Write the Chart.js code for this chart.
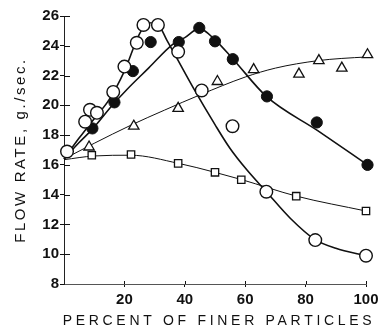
<!DOCTYPE html>
<html>
<head>
<meta charset="utf-8">
<script src="https://cdn.jsdelivr.net/npm/chart.js@4.4.1/dist/chart.umd.min.js"></script>
<style>
html,body{margin:0;padding:0;background:#fff;}
#wrap{width:378px;height:329px;position:relative;}
</style>
</head>
<body>
<div id="wrap"><canvas id="c" width="378" height="329"></canvas></div>
<script>
// ---- data ----
const xTicks = [0, 20, 40, 60, 80, 100];
const yTicks = [8, 10, 12, 14, 16, 18, 20, 22, 24, 26];

const openX = [1, 7, 8.6, 10.9, 16.3, 20, 24.1, 26.3, 31.1, 37.8, 45.6, 55.8, 67, 83.2, 100];
const openY = [16.9, 18.9, 19.7, 19.5, 20.9, 22.6, 24.2, 25.4, 25.4, 23.6, 21.0, 18.6, 14.2, 10.95, 9.9];

const filledX = [1, 9.4, 16.7, 22.8, 28.7, 38, 44.8, 50, 55.9, 67.2, 83.7, 100.5];
const filledY = [16.9, 18.45, 20.2, 22.3, 24.25, 24.25, 25.2, 24.3, 23.1, 20.6, 18.85, 16.0];

const triX = [8.3, 23.1, 37.8, 50.8, 62.8, 77.8, 84.4, 92, 100.5];
const triY = [17.2, 18.6, 19.8, 21.6, 22.4, 22.1, 23.0, 22.5, 23.4];

const sqX = [9.2, 22.2, 37.8, 50, 58.7, 76.9, 100];
const sqY = [16.65, 16.7, 16.1, 15.5, 15.0, 13.9, 12.9];

// fitted curves as drawn in the reference
const openCurveX = [0, 5, 10, 15, 20, 25, 28, 31, 34, 37, 43, 50, 55, 60.6, 67, 75, 83, 90, 100];
const openCurveY = [16.4, 17.8, 19.1, 20.4, 22.3, 24.8, 25.55, 25.45, 24.4, 23.3, 21.1, 18.7, 17.1, 15.65, 14.2, 12.4, 11.0, 10.4, 9.9];

const filledCurveX = [0, 5, 9.4, 16, 21, 28, 36, 40, 44.8, 50, 56, 67, 84, 100.5];
const filledCurveY = [16.4, 17.5, 18.4, 20.0, 21.1, 22.5, 24.1, 24.55, 25.15, 24.4, 23.1, 20.6, 18.3, 16.0];

const triCurveX = [0, 10, 22.2, 33.3, 45, 60, 70, 84, 92, 100.5];
const triCurveY = [16.4, 17.45, 18.67, 19.68, 20.7, 21.9, 22.5, 23.0, 23.15, 23.25];

const sqCurveX = [0, 10, 22, 38, 50, 59, 77, 100];
const sqCurveY = [16.35, 16.6, 16.65, 16.1, 15.5, 15.0, 13.9, 12.9];

const xTitle = 'PERCENT OF FINER PARTICLES';
const yTitle = 'FLOW RATE, g./sec.';

function pts(xs, ys) { return xs.map((x, i) => ({x: x, y: ys[i]})); }

function curve(xs, ys, w) {
  return {data: pts(xs, ys), showLine: true, borderColor: '#111', borderWidth: w,
    pointRadius: 0, pointHoverRadius: 0, cubicInterpolationMode: 'monotone', order: 10, clip: false, fill: false};
}
function marks(xs, ys, style, r, bg, bw) {
  return {data: pts(xs, ys), showLine: false, pointStyle: style, pointRadius: r, pointHoverRadius: r,
    backgroundColor: bg, borderColor: '#111', pointBorderWidth: bw, borderWidth: bw, order: 1, clip: false};
}

const FONT = '"Liberation Sans", Arial, sans-serif';

const innerTicks = {
  id: 'innerTicks',
  afterDraw(chart) {
    const ctx = chart.ctx, xs = chart.scales.x, ys = chart.scales.y, a = chart.chartArea;
    ctx.save();
    ctx.strokeStyle = '#111';
    ctx.lineWidth = 1;
    ctx.beginPath();
    yTicks.forEach(v => {
      if (v === 8) return;
      const py = Math.round(ys.getPixelForValue(v)) + 0.5;
      ctx.moveTo(a.left, py); ctx.lineTo(a.left + 6, py);
    });
    xTicks.forEach(v => {
      if (v === 0) return;
      const px = Math.round(xs.getPixelForValue(v)) + 0.5;
      ctx.moveTo(px, a.bottom); ctx.lineTo(px, a.bottom - 3);
    });
    ctx.stroke();
    // axis titles with letter spacing
    ctx.fillStyle = '#111';
    ctx.textAlign = 'center';
    ctx.textBaseline = 'middle';
    ctx.font = '14px ' + FONT;
    ctx.letterSpacing = '3.7px';
    ctx.fillText(xTitle, 219, 321);
    ctx.translate(21, 150);
    ctx.rotate(-Math.PI / 2);
    ctx.font = '15px ' + FONT;
    ctx.letterSpacing = '2.6px';
    ctx.fillText(yTitle, 0, 0);
    ctx.restore();
  }
};

new Chart(document.getElementById('c'), {
  type: 'scatter',
  data: {
    datasets: [
      marks(openX, openY, 'circle', 6.3, '#fff', 1.4),
      marks(filledX, filledY, 'circle', 5.6, '#111', 1),
      marks(triX, triY, 'triangle', 6, '#fff', 1.3),
      marks(sqX, sqY, 'rect', 5.2, '#fff', 1.3),
      curve(openCurveX, openCurveY, 1.6),
      curve(filledCurveX, filledCurveY, 1.6),
      curve(triCurveX, triCurveY, 1),
      curve(sqCurveX, sqCurveY, 1)
    ]
  },
  options: {
    responsive: false,
    animation: false,
    devicePixelRatio: 1,
    layout: {padding: {top: 16, right: 12, left: 0, bottom: 0}},
    plugins: {legend: {display: false}, tooltip: {enabled: false}},
    scales: {
      x: {
        type: 'linear', min: 0, max: 100,
        afterFit(s) { s.height = 45; s.paddingLeft = 0; s.paddingRight = 0; },
        afterBuildTicks(s) { s.ticks = xTicks.map(v => ({value: v})); },
        ticks: {
          callback: v => (v === 0 ? '' : String(v)),
          color: '#111', font: {family: FONT, size: 15, weight: 'bold'}, padding: 4, maxRotation: 0
        },
        grid: {drawOnChartArea: false, drawTicks: true, tickLength: 3,
          color: c => (c.tick && c.tick.value === 0 ? 'rgba(0,0,0,0)' : '#111')},
        border: {display: true, color: '#555', width: 1, dash: [6, 2]}
      },
      y: {
        type: 'linear', min: 8, max: 26,
        afterFit(s) { s.width = 64; s.paddingTop = 0; s.paddingBottom = 0; },
        afterBuildTicks(s) { s.ticks = yTicks.map(v => ({value: v})); },
        ticks: {color: '#111', font: {family: FONT, size: 15, weight: 'bold'}, padding: 1},
        grid: {drawOnChartArea: false, drawTicks: true, tickLength: 4, color: '#111'},
        border: {display: true, color: '#222', width: 1}
      }
    }
  },
  plugins: [innerTicks]
});
</script>
</body>
</html>
